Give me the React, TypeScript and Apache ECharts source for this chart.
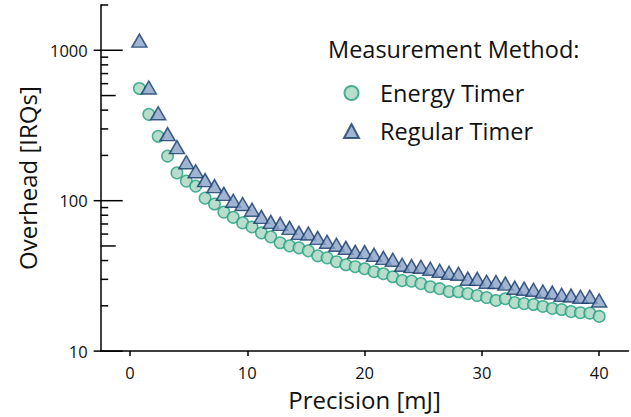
import React, { useEffect, useRef } from "react";
import * as echarts from "echarts";

const precision = [0.8, 1.6, 2.4, 3.2, 4, 4.8, 5.6, 6.4, 7.2, 8, 8.8, 9.6, 10.4, 11.2, 12, 12.8, 13.6, 14.4, 15.2, 16, 16.8, 17.6, 18.4, 19.2, 20, 20.8, 21.6, 22.4, 23.2, 24, 24.8, 25.6, 26.4, 27.2, 28, 28.8, 29.6, 30.4, 31.2, 32, 32.8, 33.6, 34.4, 35.2, 36, 36.8, 37.6, 38.4, 39.2, 40];

const energyTimer = [557, 375, 268, 198, 153, 135, 125, 104, 95, 84, 77.4, 71.2, 66.9, 61.1, 57.5, 52.5, 50.1, 48.6, 46.4, 43, 41.7, 39.3, 37.5, 36.4, 35.3, 33.7, 32.7, 31.2, 29.4, 29.2, 28.1, 26.8, 26, 24.9, 24.8, 24.1, 23.4, 22.7, 21.7, 22.3, 21, 20.7, 20.4, 19.8, 19.2, 18.9, 18.3, 18, 17.9, 17];

const regularTimer = [1159, 566, 381, 277, 227, 180, 157, 137, 125, 111, 100, 95, 87, 78, 72.3, 70.1, 66, 61.1, 60.5, 56.6, 53.3, 50.9, 48.6, 45.7, 45.5, 43.7, 41.7, 40.5, 37.5, 36.7, 36.4, 35.3, 34.2, 33.2, 32.7, 30.3, 30.2, 28.9, 28.8, 28.1, 26.4, 26, 25.6, 24.9, 24.5, 23.7, 23.4, 23, 23, 21.7];

const xTicks = [0, 10, 20, 30, 40];
const yMajorTicks = [10, 100, 1000];
const yMediumTicks = [50, 500];
const yMinorTicks = [20, 30, 40, 60, 70, 80, 90, 200, 300, 400, 600, 700, 800, 900, 2000];

const X_MIN = -2.5;
const X_MAX = 42.5;
const Y_MIN = 10;
const Y_MAX = 2000;

const FONT = "Open Sans";
const INK = "#111111";

export default function App() {
  const ref = useRef<HTMLDivElement>(null);
  useEffect(() => {
    if (!ref.current) return;
    const chart = echarts.init(ref.current, undefined, { renderer: "svg" });
    const tickData: number[][] = [
      ...yMajorTicks.map((v) => [X_MIN, v, 2]),
      ...yMediumTicks.map((v) => [X_MIN, v, 1]),
      ...yMinorTicks.map((v) => [X_MIN, v, 0]),
    ];
    chart.setOption({
      animation: false,
      textStyle: { fontFamily: FONT, color: INK },
      grid: { left: 100.7, right: 2.5, top: 5, bottom: 65 },
      graphic: [
        {
          type: "text",
          left: 328,
          top: 37,
          style: {
            text: "Measurement Method:",
            fontFamily: FONT,
            fontSize: 23.5,
            fill: INK,
          },
        },
      ],
      legend: {
        data: ["Energy Timer", "Regular Timer"],
        orient: "vertical",
        left: 338,
        top: 76,
        itemWidth: 15,
        itemHeight: 14,
        itemGap: 14,
        textStyle: {
          fontFamily: FONT,
          fontSize: 23.5,
          color: INK,
          lineHeight: 24,
          padding: [0, 0, 0, 16],
        },
      },
      xAxis: {
        type: "value",
        min: X_MIN,
        max: X_MAX,
        name: "Precision [mJ]",
        nameLocation: "middle",
        nameGap: 34,
        nameTextStyle: { fontFamily: FONT, fontSize: 24, lineHeight: 26, color: INK },
        axisLine: { show: true, onZero: false, lineStyle: { color: "#000", width: 1.5 } },
        axisTick: { show: true, length: 5, customValues: xTicks, lineStyle: { color: "#000", width: 1.5 } },
        axisLabel: { customValues: xTicks, margin: 12, lineHeight: 18, fontFamily: FONT, fontSize: 16.5, color: INK },
        splitLine: { show: false },
      },
      yAxis: {
        type: "log",
        logBase: 10,
        min: Y_MIN,
        max: Y_MAX,
        name: "Overhead [IRQs]",
        nameLocation: "middle",
        nameGap: 60,
        nameTextStyle: { fontFamily: FONT, fontSize: 24, color: INK },
        axisLine: { show: true, onZero: false, lineStyle: { color: "#000", width: 1.5 } },
        axisTick: { show: false },
        axisLabel: {
          customValues: yMajorTicks,
          margin: 13,
          fontFamily: FONT,
          fontSize: 16.5,
          color: INK,
          formatter: (v: number) => String(Math.round(v)),
        },
        splitLine: { show: false },
        minorTick: { show: false },
      },
      series: [
        {
          type: "custom",
          name: "ticks",
          silent: true,
          clip: false,
          z: 1,
          data: tickData,
          encode: { x: 0, y: 1 },
          renderItem: (params: any, api: any) => {
            const p = api.coord([api.value(0), api.value(1)]);
            const kind = api.value(2);
            const leftLen = kind === 2 ? 7 : 0;
            const rightLen = kind === 2 ? 22 : kind === 1 ? 15 : 7.5;
            return {
              type: "line",
              shape: { x1: p[0] - leftLen, y1: p[1], x2: p[0] + rightLen, y2: p[1] },
              style: { stroke: "#000", lineWidth: 1.5 },
            };
          },
        },
        {
          type: "scatter",
          name: "Energy Timer",
          symbol: "circle",
          symbolSize: 11.5,
          z: 3,
          itemStyle: { color: "#a8d5c1", borderColor: "#1f9f7e", borderWidth: 1.5 },
          data: precision.map((x, i) => [x, energyTimer[i]]),
        },
        {
          type: "scatter",
          name: "Regular Timer",
          symbol: "triangle",
          symbolSize: [15, 13],
          z: 4,
          itemStyle: { color: "#8aa3c7", borderColor: "#173a69", borderWidth: 1.5 },
          data: precision.map((x, i) => [x, regularTimer[i]]),
        },
      ],
    });
    return () => chart.dispose();
  }, []);
  return (
    <div
      ref={ref}
      style={{ position: "fixed", left: 0, top: 0, width: 631, height: 417, background: "#fff" }}
    />
  );
}
